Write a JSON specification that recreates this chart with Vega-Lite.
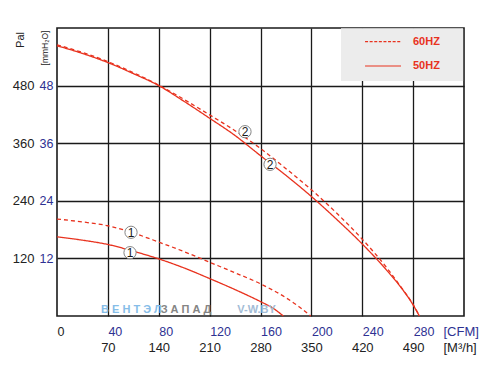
{
  "$schema": "https://vega.github.io/schema/vega-lite/v6.json",
  "width": 407,
  "height": 288,
  "autosize": {"type": "none"},
  "padding": {"left": 57, "top": 28, "right": 38, "bottom": 58},
  "background": "white",
  "config": {
    "view": {"stroke": "#1a1a1a", "strokeWidth": 1.6},
    "font": "Liberation Sans",
    "axis": {"domain": false, "ticks": false, "grid": false, "labelFont": "Liberation Sans", "titleFont": "Liberation Sans", "labelOverlap": false, "labelBound": false, "labelFlush": false}
  },
  "datasets": {
    "box": [{"x1": 223.3, "x2": 319.3, "y1": 489.6, "y2": 599.3}],
    "curves": [
      {"curve": "2-50", "hz": "50", "cfm": 0, "pa": 563},
      {"curve": "2-50", "hz": "50", "cfm": 20, "pa": 547},
      {"curve": "2-50", "hz": "50", "cfm": 40, "pa": 528},
      {"curve": "2-50", "hz": "50", "cfm": 60, "pa": 505},
      {"curve": "2-50", "hz": "50", "cfm": 80, "pa": 480},
      {"curve": "2-50", "hz": "50", "cfm": 100, "pa": 447},
      {"curve": "2-50", "hz": "50", "cfm": 120, "pa": 412},
      {"curve": "2-50", "hz": "50", "cfm": 140, "pa": 376},
      {"curve": "2-50", "hz": "50", "cfm": 160, "pa": 334},
      {"curve": "2-50", "hz": "50", "cfm": 180, "pa": 293},
      {"curve": "2-50", "hz": "50", "cfm": 200, "pa": 249},
      {"curve": "2-50", "hz": "50", "cfm": 220, "pa": 201},
      {"curve": "2-50", "hz": "50", "cfm": 240, "pa": 150},
      {"curve": "2-50", "hz": "50", "cfm": 260, "pa": 93},
      {"curve": "2-50", "hz": "50", "cfm": 270, "pa": 61},
      {"curve": "2-50", "hz": "50", "cfm": 280, "pa": 23},
      {"curve": "2-50", "hz": "50", "cfm": 284.9, "pa": 0},
      {"curve": "2-60", "hz": "60", "cfm": 0, "pa": 565},
      {"curve": "2-60", "hz": "60", "cfm": 20, "pa": 549},
      {"curve": "2-60", "hz": "60", "cfm": 40, "pa": 530},
      {"curve": "2-60", "hz": "60", "cfm": 60, "pa": 507},
      {"curve": "2-60", "hz": "60", "cfm": 80, "pa": 481},
      {"curve": "2-60", "hz": "60", "cfm": 100, "pa": 451},
      {"curve": "2-60", "hz": "60", "cfm": 120, "pa": 419},
      {"curve": "2-60", "hz": "60", "cfm": 140, "pa": 386},
      {"curve": "2-60", "hz": "60", "cfm": 160, "pa": 349},
      {"curve": "2-60", "hz": "60", "cfm": 180, "pa": 307},
      {"curve": "2-60", "hz": "60", "cfm": 200, "pa": 263},
      {"curve": "2-60", "hz": "60", "cfm": 220, "pa": 214},
      {"curve": "2-60", "hz": "60", "cfm": 240, "pa": 160},
      {"curve": "2-60", "hz": "60", "cfm": 260, "pa": 98},
      {"curve": "2-60", "hz": "60", "cfm": 270, "pa": 62},
      {"curve": "2-60", "hz": "60", "cfm": 280, "pa": 24},
      {"curve": "2-60", "hz": "60", "cfm": 285, "pa": 0},
      {"curve": "1-50", "hz": "50", "cfm": 0, "pa": 165},
      {"curve": "1-50", "hz": "50", "cfm": 20, "pa": 158},
      {"curve": "1-50", "hz": "50", "cfm": 40, "pa": 149},
      {"curve": "1-50", "hz": "50", "cfm": 60, "pa": 135},
      {"curve": "1-50", "hz": "50", "cfm": 80, "pa": 119},
      {"curve": "1-50", "hz": "50", "cfm": 100, "pa": 100},
      {"curve": "1-50", "hz": "50", "cfm": 120, "pa": 78},
      {"curve": "1-50", "hz": "50", "cfm": 140, "pa": 55},
      {"curve": "1-50", "hz": "50", "cfm": 160, "pa": 30},
      {"curve": "1-50", "hz": "50", "cfm": 170, "pa": 16},
      {"curve": "1-50", "hz": "50", "cfm": 178, "pa": 0},
      {"curve": "1-60", "hz": "60", "cfm": 0, "pa": 202},
      {"curve": "1-60", "hz": "60", "cfm": 20, "pa": 196},
      {"curve": "1-60", "hz": "60", "cfm": 40, "pa": 188},
      {"curve": "1-60", "hz": "60", "cfm": 60, "pa": 173},
      {"curve": "1-60", "hz": "60", "cfm": 80, "pa": 154},
      {"curve": "1-60", "hz": "60", "cfm": 100, "pa": 134},
      {"curve": "1-60", "hz": "60", "cfm": 120, "pa": 112},
      {"curve": "1-60", "hz": "60", "cfm": 140, "pa": 90},
      {"curve": "1-60", "hz": "60", "cfm": 160, "pa": 67},
      {"curve": "1-60", "hz": "60", "cfm": 180, "pa": 38},
      {"curve": "1-60", "hz": "60", "cfm": 190, "pa": 20},
      {"curve": "1-60", "hz": "60", "cfm": 199.5, "pa": 0}
    ],
    "markers": [
      {"n": "1", "cfm": 58.2, "pa": 174.4},
      {"n": "1", "cfm": 57.4, "pa": 131.9},
      {"n": "2", "cfm": 147.8, "pa": 384},
      {"n": "2", "cfm": 167.5, "pa": 316}
    ],
    "legend": [
      {"hz": "60", "label": "60HZ", "x1": 242.2, "x2": 270.5, "tx": 279.9, "y": 571.5},
      {"hz": "50", "label": "50HZ", "x1": 242.2, "x2": 270.5, "tx": 279.9, "y": 520.8}
    ],
    "wm": [
      {"part": "ВЕНТЭЛ", "t": "В Е Н Т Э Л", "cfm": 34.6, "pa": 12.5},
      {"part": "ЗАПАД", "t": "З А П А Д", "cfm": 81.5, "pa": 12.5},
      {"part": "V-W.BY", "t": "V-W.BY", "cfm": 141.8, "pa": 12.5}
    ]
  },
  "layer": [
    {
      "data": {"name": "box"},
      "mark": {"type": "rect", "color": "#ececec"},
      "encoding": {
        "x": {"field": "x1", "type": "quantitative", "scale": {"domain": [0, 320], "nice": false, "zero": false},
          "axis": {"values": [40, 80, 120, 160, 200, 240, 280], "grid": true, "labels": false, "title": null, "gridColor": "#1a1a1a", "gridWidth": 1.3, "gridOpacity": 1}},
        "x2": {"field": "x2"},
        "y": {"field": "y1", "type": "quantitative", "scale": {"domain": [0, 600], "nice": false, "zero": false},
          "axis": {"values": [120, 240, 360, 480], "grid": true, "labels": false, "title": null, "gridColor": "#1a1a1a", "gridWidth": 1.3, "gridOpacity": 1}},
        "y2": {"field": "y2"}
      }
    },
    {
      "data": {"name": "curves"},
      "mark": {"type": "line", "interpolate": "monotone", "strokeWidth": 1.3, "color": "#e8321e"},
      "encoding": {
        "x": {"field": "cfm", "type": "quantitative",
          "axis": {"orient": "bottom", "values": [0, 40, 80, 120, 160, 200, 240, 280], "labelAlign": "left", "labelBaseline": "middle", "labelPadding": 15, "labelFontSize": 12.5,
            "labelColor": {"condition": {"test": "datum.value === 0", "value": "#222222"}, "value": "#2e3192"},
            "title": "[CFM]", "titleColor": "#2e3192", "titleFontWeight": "normal", "titleFontSize": 13, "titleX": 386, "titleY": 15, "titleAlign": "left", "titleBaseline": "middle"}},
        "y": {"field": "pa", "type": "quantitative",
          "axis": {"orient": "left", "values": [120, 240, 360, 480], "labelExpr": "format(datum.value / 10, 'd')", "labelColor": "#2e3192", "labelPadding": 4, "labelFontSize": 12.5,
            "title": "[mmH₂O]", "titleAngle": 270, "titleX": -12.5, "titleY": 19.5, "titleFontSize": 8.5, "titleFontWeight": "normal", "titleColor": "#222222", "titleAlign": "center", "titleBaseline": "middle"}},
        "detail": {"field": "curve"},
        "strokeDash": {"field": "hz", "type": "nominal", "scale": {"domain": ["50", "60"], "range": [[1, 0], [4, 3]]}, "legend": null}
      }
    },
    {
      "data": {"name": "markers"},
      "mark": {"type": "point", "shape": "circle", "size": 150, "filled": true, "fill": "white", "stroke": "#858585", "strokeWidth": 1, "opacity": 1},
      "encoding": {
        "x": {"field": "cfm", "type": "quantitative",
          "axis": {"orient": "bottom", "values": [40, 80, 120, 160, 200, 240, 280], "labelExpr": "format(datum.value * 1.75, 'd')", "labelAlign": "center", "labelBaseline": "middle", "labelPadding": 31, "labelFontSize": 13, "labelColor": "#222222",
            "title": "[M³/h]", "titleColor": "#222222", "titleFontWeight": "normal", "titleFontSize": 13, "titleX": 386, "titleY": 31, "titleAlign": "left", "titleBaseline": "middle"}},
        "y": {"field": "pa", "type": "quantitative",
          "axis": {"orient": "left", "values": [120, 240, 360, 480], "labelColor": "#222222", "labelPadding": 23, "labelFontSize": 13,
            "title": "Pal", "titleAngle": 270, "titleX": -36.5, "titleY": 11.5, "titleFontSize": 11, "titleFontWeight": "normal", "titleColor": "#222222", "titleAlign": "center", "titleBaseline": "middle"}}
      }
    },
    {
      "data": {"name": "markers"},
      "mark": {"type": "text", "fontSize": 12, "color": "#1a1a1a", "align": "center", "baseline": "middle", "dy": 0.5},
      "encoding": {
        "x": {"field": "cfm", "type": "quantitative", "axis": null},
        "y": {"field": "pa", "type": "quantitative", "axis": null},
        "text": {"field": "n"}
      }
    },
    {
      "data": {"name": "legend"},
      "layer": [
        {
          "mark": {"type": "rule", "strokeWidth": 1.2, "color": "#e8321e"},
          "encoding": {
            "x": {"field": "x1", "type": "quantitative", "axis": null},
            "x2": {"field": "x2"},
            "y": {"field": "y", "type": "quantitative", "axis": null},
            "strokeDash": {"field": "hz", "type": "nominal", "scale": {"domain": ["50", "60"], "range": [[1, 0], [3, 1.6]]}, "legend": null}
          }
        },
        {
          "mark": {"type": "text", "fontSize": 11, "fontWeight": "bold", "color": "#e8321e", "align": "left", "baseline": "middle"},
          "encoding": {
            "x": {"field": "tx", "type": "quantitative", "axis": null},
            "y": {"field": "y", "type": "quantitative", "axis": null},
            "text": {"field": "label"}
          }
        }
      ],
      "resolve": {"axis": {"x": "independent", "y": "independent"}}
    },
    {
      "data": {"name": "wm"},
      "mark": {"type": "text", "fontSize": 11, "fontWeight": "bold", "align": "left", "baseline": "middle"},
      "encoding": {
        "x": {"field": "cfm", "type": "quantitative", "axis": null},
        "y": {"field": "pa", "type": "quantitative", "axis": null},
        "text": {"field": "t"},
        "color": {"field": "part", "type": "nominal", "scale": {"domain": ["ВЕНТЭЛ", "ЗАПАД", "V-W.BY"], "range": ["#86bde8", "#858585", "#a3bcd6"]}, "legend": null}
      }
    }
  ],
  "resolve": {"axis": {"x": "independent", "y": "independent"}, "scale": {"strokeDash": "independent"}}
}
